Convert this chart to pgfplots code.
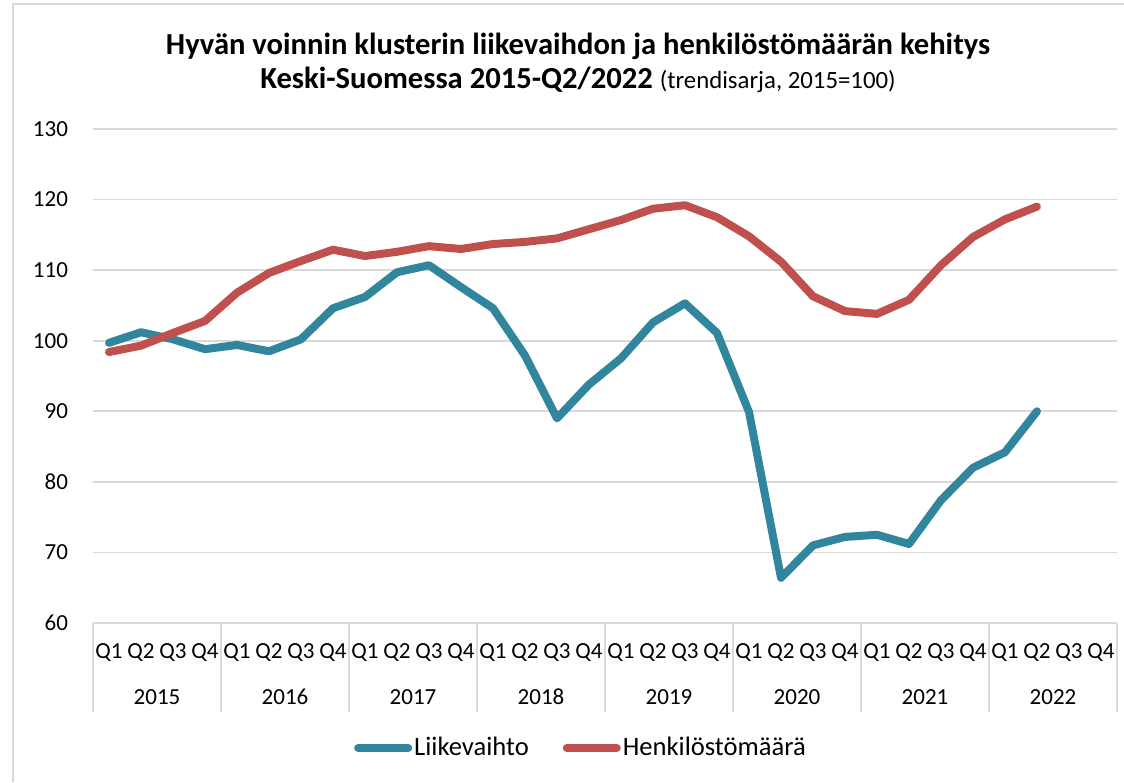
\documentclass[border=0pt]{standalone}
\usepackage{pgfplots}
\pgfplotsset{compat=1.18}
\usepackage{fontspec}
\setmainfont{Carlito}
\definecolor{teal1}{HTML}{31859C}
\definecolor{red1}{HTML}{C0504D}
\definecolor{gridc}{HTML}{D9D9D9}
\begin{document}
\begin{tikzpicture}
\path[use as bounding box] (0,0) rectangle (562pt,391pt);
\draw[gridc, line width=1pt] (6.5pt,0) -- (6.5pt,389pt) -- (562pt,389pt);
\node[font=\fontsize{15.3}{18}\selectfont\bfseries] at (289pt,368pt) {Hyvän voinnin klusterin liikevaihdon ja henkilöstömäärän kehitys};
\node[font=\fontsize{15.3}{18}\selectfont] at (289pt,351pt) {\textbf{Keski-Suomessa 2015-Q2/2022} {\fontsize{12.4}{14}\selectfont(trendisarja, 2015=100)}};
\begin{axis}[
  at={(46.5pt,79.5pt)}, anchor=south west,
  scale only axis, width=512pt, height=247pt,
  xmin=-0.5, xmax=31.5, ymin=60, ymax=130,
  ytick={60,70,...,130},
  xtick={0,...,31},
  xticklabels={Q1,Q2,Q3,Q4,Q1,Q2,Q3,Q4,Q1,Q2,Q3,Q4,Q1,Q2,Q3,Q4,Q1,Q2,Q3,Q4,Q1,Q2,Q3,Q4,Q1,Q2,Q3,Q4,Q1,Q2,Q3,Q4},
  font=\fontsize{11.5}{13}\selectfont,
  ticklabel style={font=\fontsize{11.5}{13}\selectfont},
  /pgf/number format/assume math mode=true,
  axis x line*=bottom, axis y line*=left,
  x axis line style={draw=gridc, line width=1pt, -},
  y axis line style={draw=none},
  major tick length=0pt,
  ymajorgrids, grid style={gridc, line width=0.8pt},
  yticklabel style={xshift=-9pt},
  xticklabel style={anchor=center, yshift=-15pt},
  extra x ticks={-0.5,3.5,7.5,11.5,15.5,19.5,23.5,27.5,31.5},
  extra x tick labels={},
  extra x tick style={major tick length=44.5pt, tick align=outside, tick style={draw=gridc, line width=1pt}},
  clip=false,
  legend columns=2,
  legend style={at={(0.4766,-0.253)}, anchor=center, draw=none, fill=none, font=\fontsize{13.3}{15}\selectfont, nodes={inner sep=1pt}, /tikz/every even column/.append style={column sep=16pt}},
  legend image code/.code={\draw[#1, line cap=round] (0pt,0pt) -- (25pt,0pt);},
]
\addplot[teal1, line width=4pt, line join=round, line cap=round] coordinates {
(0,99.7)(1,101.2)(2,100.2)(3,98.8)(4,99.4)(5,98.5)(6,100.2)(7,104.6)
(8,106.2)(9,109.7)(10,110.7)(11,107.6)(12,104.6)(13,97.9)(14,89.0)(15,93.8)
(16,97.5)(17,102.6)(18,105.3)(19,101.1)(20,89.9)(21,66.4)(22,71.0)(23,72.2)
(24,72.5)(25,71.2)(26,77.4)(27,82.0)(28,84.2)(29,90.0)};
\addlegendentry{Liikevaihto}
\addplot[red1, line width=4pt, line join=round, line cap=round] coordinates {
(0,98.4)(1,99.3)(2,101.1)(3,102.8)(4,106.8)(5,109.6)(6,111.3)(7,112.9)
(8,112.0)(9,112.6)(10,113.4)(11,113.0)(12,113.7)(13,114.0)(14,114.5)(15,115.8)
(16,117.1)(17,118.7)(18,119.2)(19,117.5)(20,114.8)(21,111.2)(22,106.3)(23,104.2)
(24,103.8)(25,105.8)(26,110.7)(27,114.7)(28,117.2)(29,119.0)};
\addlegendentry{Henkilöstömäärä}
\node[font=\fontsize{11.5}{13}\selectfont] at (axis cs:1.5,60) [yshift=-37pt] {2015};
\node[font=\fontsize{11.5}{13}\selectfont] at (axis cs:5.5,60) [yshift=-37pt] {2016};
\node[font=\fontsize{11.5}{13}\selectfont] at (axis cs:9.5,60) [yshift=-37pt] {2017};
\node[font=\fontsize{11.5}{13}\selectfont] at (axis cs:13.5,60) [yshift=-37pt] {2018};
\node[font=\fontsize{11.5}{13}\selectfont] at (axis cs:17.5,60) [yshift=-37pt] {2019};
\node[font=\fontsize{11.5}{13}\selectfont] at (axis cs:21.5,60) [yshift=-37pt] {2020};
\node[font=\fontsize{11.5}{13}\selectfont] at (axis cs:25.5,60) [yshift=-37pt] {2021};
\node[font=\fontsize{11.5}{13}\selectfont] at (axis cs:29.5,60) [yshift=-37pt] {2022};
\end{axis}
\end{tikzpicture}
\end{document}
